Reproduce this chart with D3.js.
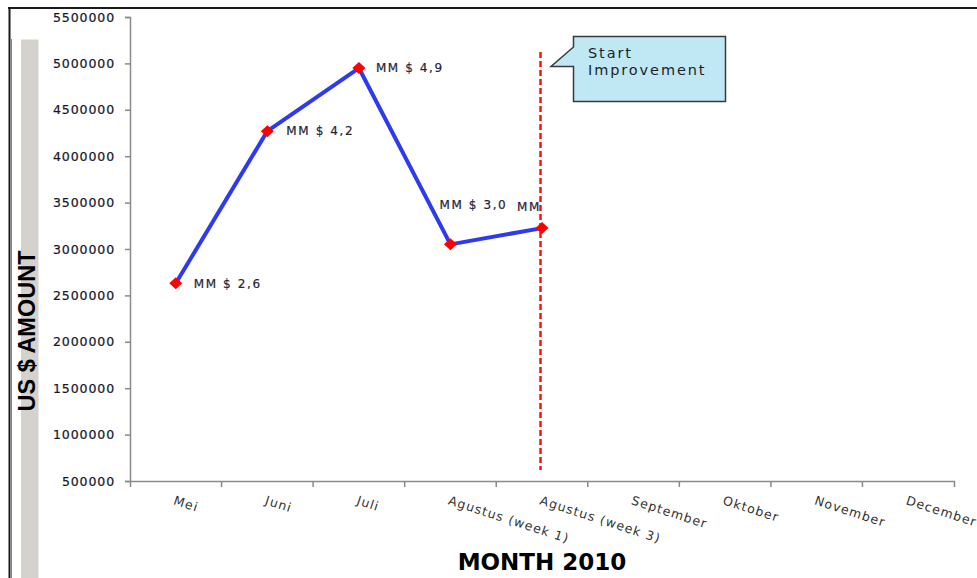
<!DOCTYPE html>
<html>
<head>
<meta charset="utf-8">
<script src="https://cdn.jsdelivr.net/npm/d3@7"></script>
<style>
  html, body { margin: 0; padding: 0; background: #fff; }
  svg { display: block; }
</style>
</head>
<body>
<svg id="chart" width="977" height="578"></svg>
<script>
// Monthly US$ amounts for 2010
const months = ["Mei", "Juni", "Juli", "Agustus (week 1)", "Agustus (week 3)",
                "September", "Oktober", "November", "December"];
const amounts = [2630000, 4270000, 4950000, 3050000, 3225000];
const yTickValues = [500000, 1000000, 1500000, 2000000, 2500000, 3000000,
                     3500000, 4000000, 4500000, 5000000, 5500000];
const markerMonth = "Agustus (week 3)";
const calloutLines = ["Start", "Improvement"];

// value label text: "MM $ x,y" (millions, one decimal, truncated)
function mmLabel(v) {
  const t = Math.floor(v / 100000) / 10;
  return "MM $ " + t.toFixed(1).replace(".", ",");
}
const labelTexts = amounts.map((v, i) => i === 4 ? "MM" : mmLabel(v));
// label placement relative to each point
const labelOffsets = [[18, 0, "start"], [19, 0, "start"], [17, 0, "start"],
                      [23, -40, "middle"], [-1, -21, "end"]];

const svg = d3.select("#chart");

// frame
svg.append("line").attr("x1", 8).attr("x2", 977).attr("y1", 8).attr("y2", 8)
  .attr("stroke", "#1a1a1a").attr("stroke-width", 2);
svg.append("line").attr("x1", 9.5).attr("x2", 9.5).attr("y1", 7).attr("y2", 578)
  .attr("stroke", "#1a1a1a").attr("stroke-width", 2);
svg.append("line").attr("x1", 11.5).attr("x2", 11.5).attr("y1", 39).attr("y2", 578)
  .attr("stroke", "#2f9fd6").attr("stroke-width", 1);
svg.append("rect").attr("x", 21).attr("y", 39.5).attr("width", 17.5).attr("height", 540)
  .attr("fill", "#d5d1cc");

const x = d3.scaleBand().domain(months).range([130, 954]);
const y = d3.scaleLinear().domain([500000, 5500000]).range([481, 17]);

const axisColor = "#8a8a8a";
const font = "'DejaVu Sans', Verdana, sans-serif";

// y axis
const gy = svg.append("g").attr("transform", "translate(130,0)")
  .call(d3.axisLeft(y).tickValues(yTickValues).tickFormat(d3.format("d"))
    .tickSize(5).tickSizeOuter(5).tickPadding(10));
gy.selectAll("path, line").attr("stroke", axisColor).attr("stroke-width", 1.5);
gy.selectAll("text")
  .attr("font-family", font)
  .attr("font-size", 12.5).attr("letter-spacing", "0.9px")
  .attr("fill", "#15152a").attr("stroke", "#15152a").attr("stroke-width", 0.2);

// x axis
const gx = svg.append("g").attr("transform", "translate(0,481)")
  .call(d3.axisBottom(x).tickSize(0).tickSizeOuter(6).tickPadding(0));
gx.select(".domain").attr("stroke", axisColor).attr("stroke-width", 1.5);
gx.selectAll(".tick line").remove();
gx.selectAll(".tick text")
  .attr("y", null).attr("dy", null)
  .attr("text-anchor", "start")
  .attr("transform", "translate(-3,23) rotate(18)")
  .attr("font-family", font)
  .attr("font-size", 12.5).attr("letter-spacing", "1.1px")
  .attr("fill", "#333");
// category boundary ticks
gx.selectAll(".bound").data(months.slice(1)).join("line")
  .attr("class", "bound")
  .attr("x1", d => x(d)).attr("x2", d => x(d))
  .attr("y1", 0).attr("y2", 6)
  .attr("stroke", axisColor).attr("stroke-width", 1.5);

// axis titles
svg.append("text")
  .attr("transform", "translate(35,331) rotate(-90)")
  .attr("text-anchor", "middle")
  .attr("font-family", "'Liberation Sans', Arial, sans-serif")
  .attr("font-weight", "bold").attr("font-size", 23.5)
  .attr("fill", "#000")
  .text("US $ AMOUNT");
svg.append("text")
  .attr("x", 542).attr("y", 570)
  .attr("text-anchor", "middle")
  .attr("font-family", font)
  .attr("font-weight", "bold").attr("font-size", 23)
  .attr("fill", "#000")
  .text("MONTH 2010");

// data
const pts = amounts.map((v, i) => ({ m: months[i], v, i }));
const cx = d => x(d.m) + x.bandwidth() / 2;

svg.append("path").datum(pts)
  .attr("fill", "none").attr("stroke", "#2e3af0").attr("stroke-width", 4)
  .attr("stroke-linejoin", "round")
  .attr("d", d3.line().x(cx).y(d => y(d.v)));

// start-of-improvement marker line
const mx = x(markerMonth) + x.bandwidth() / 2 - 1.5;
svg.append("line")
  .attr("x1", mx).attr("x2", mx).attr("y1", 52).attr("y2", 470)
  .attr("stroke", "#ff1010").attr("stroke-width", 2.5)
  .attr("stroke-dasharray", "6,3");

// diamond markers
svg.selectAll(".pt").data(pts).join("path")
  .attr("class", "pt")
  .attr("transform", d => `translate(${cx(d)},${y(d.v)})`)
  .attr("d", "M0,-6 L6.5,0 L0,6 L-6.5,0 Z")
  .attr("fill", "#ff0000");

// value labels
svg.selectAll(".lbl").data(pts).join("text")
  .attr("class", "lbl")
  .attr("x", d => cx(d) + labelOffsets[d.i][0])
  .attr("y", d => y(d.v) + labelOffsets[d.i][1])
  .attr("dy", "0.36em")
  .attr("text-anchor", d => labelOffsets[d.i][2])
  .attr("font-family", font)
  .attr("font-size", 12).attr("letter-spacing", "1.6px")
  .attr("fill", "#25253a").attr("stroke", "#25253a").attr("stroke-width", 0.2)
  .text(d => labelTexts[d.i]);

// callout
svg.append("path")
  .attr("d", "M573.5,36.5 H725.5 V101.5 H573.5 V66.5 L551,66.5 L573.5,47 Z")
  .attr("fill", "#bfe7f4").attr("stroke", "#3a3a3a").attr("stroke-width", 1.5);
svg.append("text")
  .attr("font-family", font)
  .attr("font-size", 14.5).attr("letter-spacing", "1.9px")
  .attr("fill", "#1e1e2a")
  .selectAll("tspan").data(calloutLines).join("tspan")
  .attr("x", 588).attr("y", (d, i) => 58 + i * 17)
  .text(d => d);
</script>
</body>
</html>
